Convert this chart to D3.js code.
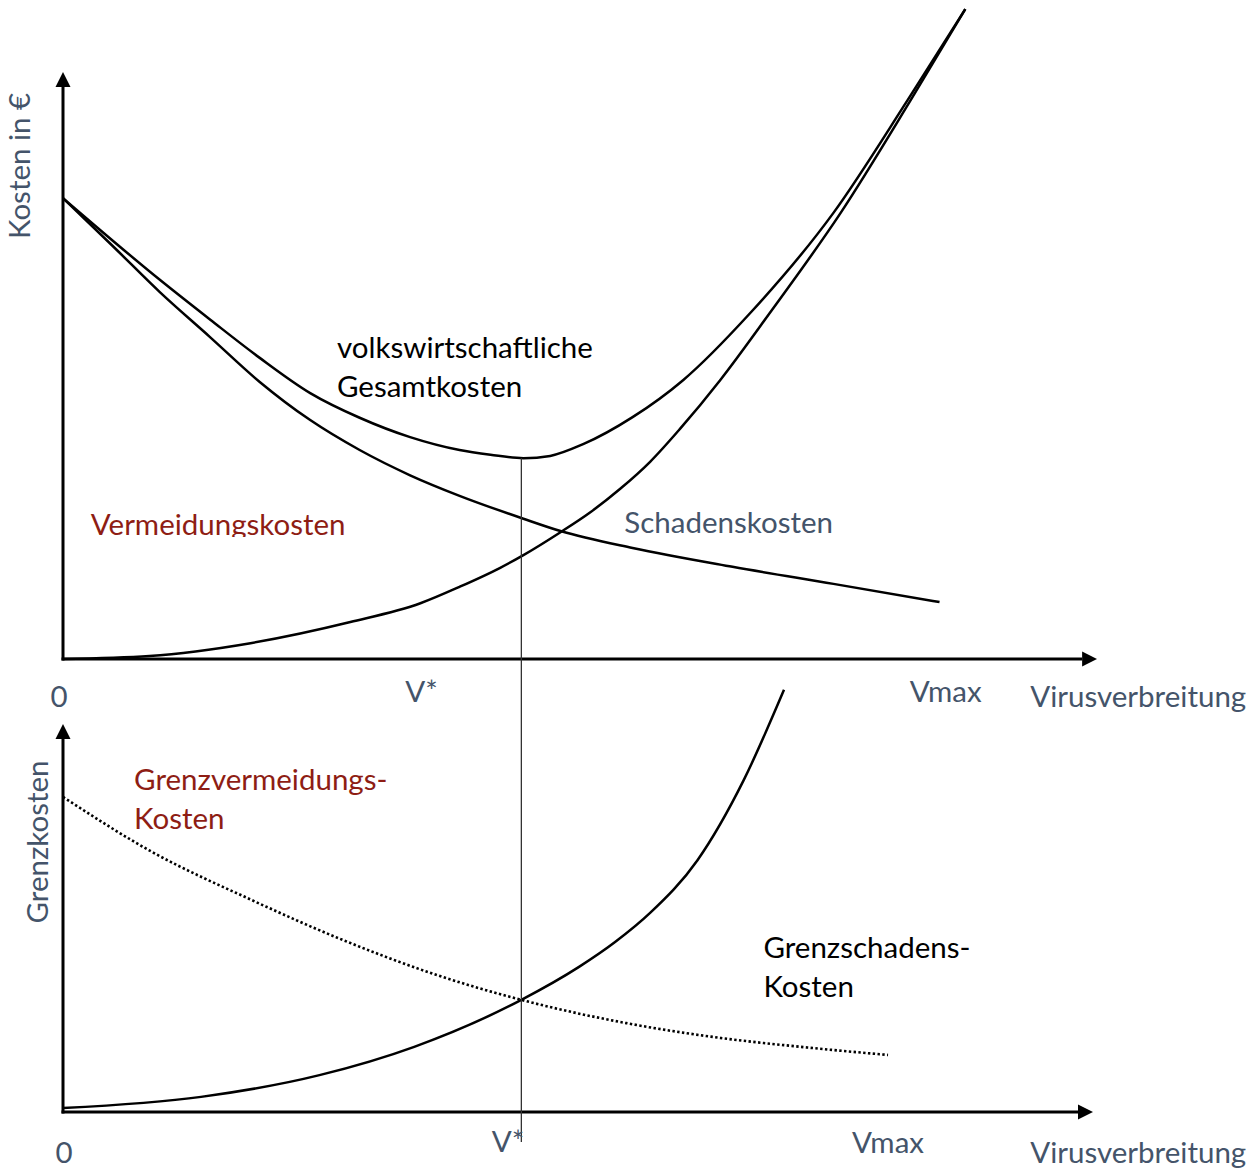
<!DOCTYPE html>
<html>
<head>
<meta charset="utf-8">
<script src="https://cdn.jsdelivr.net/npm/d3@7"></script>
<style>
  body { margin: 0; background: #fff; }
  svg { display: block; }
  text { font-family: Lato, "Open Sans", sans-serif; }
</style>
</head>
<body>
<div id="chart"></div>
<script>
const gesamtX   = [0, 9.4, 14.3, 19.1, 24.0, 28.8, 33.7, 38.5, 41.5, 44.7, 47.3, 50.5, 55.3, 60.2, 66.7, 74.8, 82.0, 87.6];
const gesamtY   = [78.5, 64.6, 57.8, 51.3, 45.3, 41.1, 37.8, 35.6, 34.8, 34.2, 34.6, 36.6, 41.2, 47.5, 58.9, 76.0, 95.2, 110.7];
const vermeidX  = [0, 4.8, 9.4, 14.3, 19.1, 24.0, 28.8, 33.7, 38.5, 44.7, 48.3, 55.3, 65.0, 74.8, 85.1];
const vermeidY  = [78.5, 70.4, 62.5, 54.8, 47.2, 40.7, 35.6, 31.3, 27.8, 23.9, 21.8, 18.9, 15.7, 12.8, 9.7];
const schadenX  = [0, 8.4, 18.2, 27.9, 34.7, 38.5, 42.4, 44.7, 48.3, 51.2, 54.1, 57.0, 59.9, 63.8, 68.6, 75.5, 82.3, 87.6];
const schadenY  = [0, 0.5, 2.7, 6.3, 9.5, 12.3, 15.5, 17.7, 21.6, 25.0, 29.0, 33.6, 39.2, 47.5, 58.9, 76.0, 95.2, 110.7];

const grenzSchadenX  = [0, 13.4, 24.9, 34.1, 44.5, 50.1, 53.6, 57.0, 61.6, 66.1, 70.0];
const grenzSchadenY  = [1.0, 3.9, 9.5, 16.8, 28.9, 37.4, 43.8, 51.3, 64.9, 85.6, 108.8];
const grenzVermeidX  = [0, 8.8, 18.1, 27.2, 36.3, 44.5, 54.7, 63.8, 71.6, 80.1];
const grenzVermeidY  = [81.2, 66.8, 54.9, 44.3, 35.3, 28.9, 22.9, 19.1, 16.8, 14.7];

const vStar = 44.5;
const gesamtMin = 34.2;
const tickLabels = ["0", "V*", "Vmax"];
const xAxisTitle = "Virusverbreitung";

const W = 1258, H = 1169;
const blue = "#44546A", red = "#8E1D14";
const fs = 29.5;

const svg = d3.select("#chart").append("svg")
    .attr("width", W).attr("height", H);

// Pfeilspitze
const defs = svg.append("defs");
defs.append("marker")
    .attr("id", "arrow")
    .attr("viewBox", "0 0 10 10")
    .attr("refX", 0).attr("refY", 5)
    .attr("markerUnits", "userSpaceOnUse")
    .attr("markerWidth", 15).attr("markerHeight", 16)
    .attr("orient", "auto")
    .append("path").attr("d", "M0,0L10,5L0,10Z").attr("fill", "#000");

defs.append("clipPath").attr("id", "clipVerm")
    .append("rect").attr("x", 0).attr("y", 495).attr("width", 600).attr("height", 42);

const x = d3.scaleLinear().domain([0, 100]).range([63, 1093]);
const yTop = d3.scaleLinear().domain([0, 100]).range([659, 72]);
const yBot = d3.scaleLinear().domain([0, 100]).range([1112, 724]);

const zip = (xs, ys) => xs.map((v, i) => [v, ys[i]]);
const curve = d3.curveMonotoneX;
const lineTop = d3.line().x(d => x(d[0])).y(d => yTop(d[1])).curve(curve);
const lineBot = d3.line().x(d => x(d[0])).y(d => yBot(d[1])).curve(curve);

function axes(yScale, xEnd) {
    svg.append("line")
        .attr("x1", x(0)).attr("y1", yScale(0) + 1.5)
        .attr("x2", x(0)).attr("y2", yScale(100) + 15)
        .attr("stroke", "#000").attr("stroke-width", 3)
        .attr("marker-end", "url(#arrow)");
    svg.append("line")
        .attr("x1", x(0) - 1.5).attr("y1", yScale(0))
        .attr("x2", x(xEnd) - 15).attr("y2", yScale(0))
        .attr("stroke", "#000").attr("stroke-width", 3)
        .attr("marker-end", "url(#arrow)");
}

function label(txt, px, py, color, opts = {}) {
    return svg.append("text")
        .attr("x", px).attr("y", py)
        .attr("dy", "0.35em")
        .attr("text-anchor", opts.anchor || "start")
        .attr("fill", color)
        .style("font-size", (opts.size || fs) + "px")
        .text(txt);
}

// ---- oberes Diagramm ----
axes(yTop, 100.4);

[[gesamtX, gesamtY], [vermeidX, vermeidY], [schadenX, schadenY]].forEach(([xs, ys]) => {
    svg.append("path").attr("d", lineTop(zip(xs, ys)))
        .attr("fill", "none").attr("stroke", "#000").attr("stroke-width", 2.5);
});

// ---- unteres Diagramm ----
axes(yBot, 100);

svg.append("path").attr("d", lineBot(zip(grenzVermeidX, grenzVermeidY)))
    .attr("fill", "none").attr("stroke", "#000").attr("stroke-width", 2.6)
    .attr("stroke-dasharray", "2.4,2.4");
svg.append("path").attr("d", lineBot(zip(grenzSchadenX, grenzSchadenY)))
    .attr("fill", "none").attr("stroke", "#000").attr("stroke-width", 2.5);

// senkrechte Linie bei V*
svg.append("line")
    .attr("x1", x(vStar)).attr("x2", x(vStar))
    .attr("y1", yTop(gesamtMin)).attr("y2", yBot(0) + 30)
    .attr("stroke", "#333").attr("stroke-width", 1.3);

// ---- Beschriftungen ----
label("volkswirtschaftliche", x(26.6), yTop(53.0), "#000");
label("Gesamtkosten", x(26.6), yTop(46.4), "#000");
label("Vermeidungskosten", x(2.7), yTop(22.8), red).attr("clip-path", "url(#clipVerm)");
label("Schadenskosten", x(54.5), yTop(23.2), blue);

label("Kosten in €", 0, 0, blue, { anchor: "middle" })
    .attr("transform", `translate(20,${yTop(84)}) rotate(-90)`);

label(tickLabels[0], x(0) - 4, yTop(0) + 38, blue, { anchor: "middle" });
label(tickLabels[1], x(34.8), yTop(0) + 33, blue, { anchor: "middle" });
label(tickLabels[2], x(85.7), yTop(0) + 33, blue, { anchor: "middle" });
label(xAxisTitle, x(93.9), yTop(0) + 38, blue);

label("Grenzvermeidungs-", x(6.9), yBot(85.6), red);
label("Kosten", x(6.9), yBot(75.6), red);
label("Grenzschadens-", x(68.0), yBot(42.3), "#000");
label("Kosten", x(68.0), yBot(32.2), "#000");

label("Grenzkosten", 0, 0, blue, { anchor: "middle" })
    .attr("transform", `translate(38,${yBot(69.6)}) rotate(-90)`);

label(tickLabels[0], x(0) + 1, yBot(0) + 41, blue, { anchor: "middle" });
label(tickLabels[1], x(43.2), yBot(0) + 30, blue, { anchor: "middle" });
label(tickLabels[2], x(80.1), yBot(0) + 31, blue, { anchor: "middle" });
label(xAxisTitle, x(93.9), yBot(0) + 41, blue);
</script>
</body>
</html>
